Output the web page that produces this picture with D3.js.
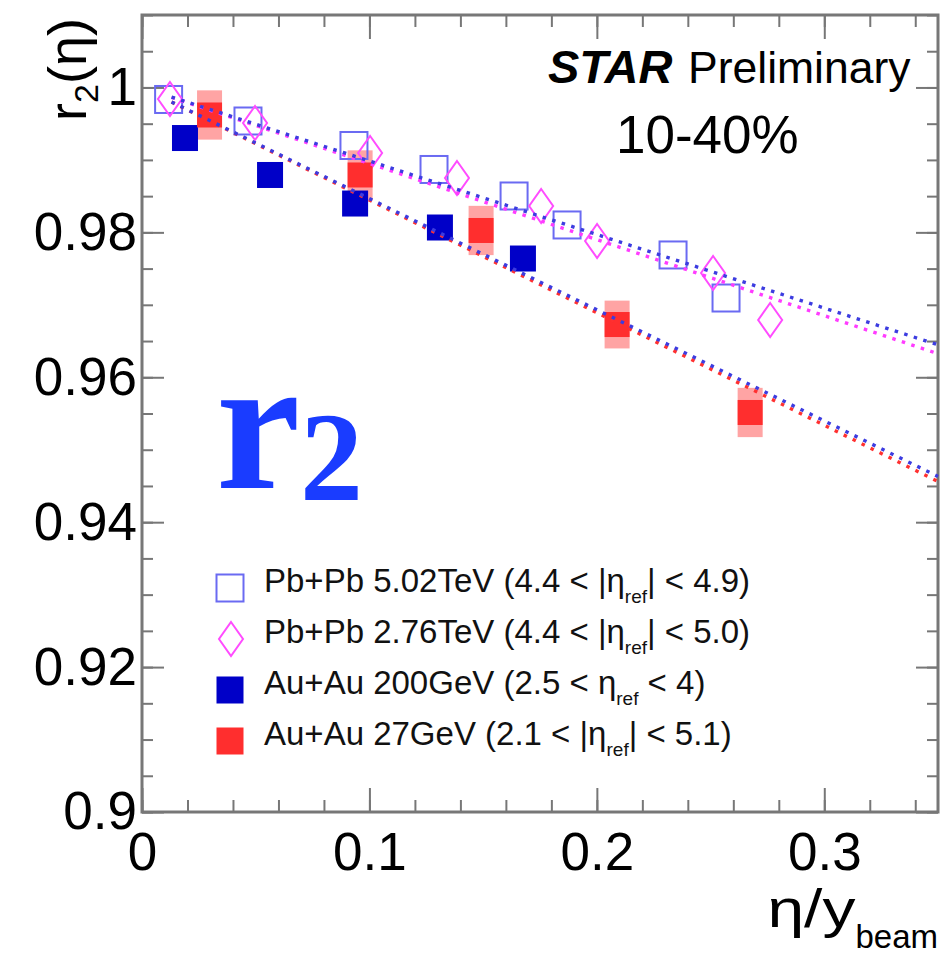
<!DOCTYPE html>
<html><head><meta charset="utf-8">
<script src="https://cdn.jsdelivr.net/npm/d3@7"></script>
<style>body{margin:0;background:#fff} svg{display:block}</style>
</head><body>
<svg id="chart" width="943" height="954"></svg>
<script>
// ---------- data ----------
const xTickValues = [0, 0.1, 0.2, 0.3];
const xTickLabels = ["0", "0.1", "0.2", "0.3"];
const yTickValues = [0.9, 0.92, 0.94, 0.96, 0.98, 1.0];
const yTickLabels = ["0.9", "0.92", "0.94", "0.96", "0.98", "1"];

const pbpb502X = [0.0117, 0.0466, 0.0932, 0.1284, 0.1636, 0.1869, 0.2335, 0.2568];
const pbpb502Y = [0.99834, 0.99537, 0.99199, 0.98868, 0.98502, 0.98102, 0.97688, 0.97094];

const pbpb276X = [0.0123, 0.0497, 0.1003, 0.1385, 0.1755, 0.2001, 0.2511, 0.2762];
const pbpb276Y = [0.99841, 0.99509, 0.99095, 0.98750, 0.98364, 0.97881, 0.97439, 0.96790];

const auau200X = [0.0189, 0.0563, 0.0937, 0.1310, 0.1675];
const auau200Y = [0.99302, 0.98792, 0.98398, 0.98067, 0.97639];

const auau27X = [0.0297, 0.0959, 0.1491, 0.2089, 0.2674];
const auau27Y = [0.99620, 0.98792, 0.98026, 0.96728, 0.95514];
const auau27Sys = [0.0034, 0.0034, 0.0034, 0.0033, 0.0034];

// linear fits r2 = intercept - slope * x
const fitNames = ["pbpb276", "pbpb502", "auau27", "auau200"];
const fitIntercept = [1.0, 1.0, 1.0, 1.0];
const fitSlope = [0.1050, 0.1015, 0.1554, 0.1534];
const fitRange = [0.013, 0.35];
const fitColors = ["#ff3cff", "#3c3ce0", "#ff3030", "#3c3ce0"];

const legendLabels = [
  ["Pb+Pb 5.02TeV (4.4 < |η", "ref", "| < 4.9)"],
  ["Pb+Pb 2.76TeV (4.4 < |η", "ref", "| < 5.0)"],
  ["Au+Au 200GeV (2.5 < η", "ref", " < 4)"],
  ["Au+Au 27GeV (2.1 < |η", "ref", "| < 5.1)"]
];

// ---------- layout ----------
const svg = d3.select("#chart");
const FONT = "'Liberation Sans', Arial, Helvetica, sans-serif";
const L = 142, R = 938, T = 15, B = 812;

const x = d3.scaleLinear().domain([0, 0.35]).range([L, R]);
const y = d3.scaleLinear().domain([0.9, 1.01]).range([B, T]);

const C_OPEN_SQ = "#6a6af2";
const C_DIAM = "#ff4cff";
const C_BLUE = "#0000c8";
const C_RED = "#ff2e2e";
const C_SYS = "#ff9a9a";

// ---------- axes ----------
const yMinor = d3.range(0, 23).map(i => 0.9 + i * 0.005);
const xMinor = d3.range(0, 18).map(i => i * 0.02);

function styleAxis(g) {
  g.select(".domain").remove();
  g.selectAll(".tick line").attr("stroke", "#777").attr("stroke-width", 2);
  g.selectAll("text").attr("font-family", FONT).attr("fill", "#000");
}

// left
svg.append("g").attr("transform", `translate(${L},0)`)
  .call(d3.axisLeft(y).tickValues(yMinor).tickSize(-11).tickFormat(""))
  .call(styleAxis);
svg.append("g").attr("transform", `translate(${L},0)`)
  .call(d3.axisLeft(y).tickValues(yTickValues).tickSize(-22).tickPadding(5)
    .tickFormat((d, i) => yTickLabels[i]))
  .call(styleAxis)
  .call(g => g.selectAll("text").attr("font-size", 53));
// right
svg.append("g").attr("transform", `translate(${R},0)`)
  .call(d3.axisRight(y).tickValues(yMinor).tickSize(-11).tickFormat(""))
  .call(styleAxis);
svg.append("g").attr("transform", `translate(${R},0)`)
  .call(d3.axisRight(y).tickValues(yTickValues).tickSize(-22).tickFormat(""))
  .call(styleAxis);
// bottom
svg.append("g").attr("transform", `translate(0,${B})`)
  .call(d3.axisBottom(x).tickValues(xMinor).tickSize(-12).tickFormat(""))
  .call(styleAxis);
svg.append("g").attr("transform", `translate(0,${B})`)
  .call(d3.axisBottom(x).tickValues(xTickValues).tickSize(-24).tickPadding(20)
    .tickFormat((d, i) => xTickLabels[i]))
  .call(styleAxis)
  .call(g => g.selectAll("text").attr("font-size", 53));
// top
svg.append("g").attr("transform", `translate(0,${T})`)
  .call(d3.axisTop(x).tickValues(xMinor).tickSize(-12).tickFormat(""))
  .call(styleAxis);
svg.append("g").attr("transform", `translate(0,${T})`)
  .call(d3.axisTop(x).tickValues(xTickValues).tickSize(-24).tickFormat(""))
  .call(styleAxis);

// frame
svg.append("rect").attr("x", L).attr("y", T).attr("width", R - L).attr("height", B - T)
  .attr("fill", "none").attr("stroke", "#777").attr("stroke-width", 3);

// ---------- big r2 label ----------
const big = svg.append("text").attr("x", 216).attr("y", 488)
  .attr("font-family", "'Liberation Serif', 'Times New Roman', serif")
  .attr("font-weight", "bold").attr("fill", "#1a3cff");
big.append("tspan").attr("font-size", 190).text("r");
big.append("tspan").attr("font-size", 126).attr("x", 300).attr("y", 500).text("2");

// ---------- markers ----------
const plot = svg.append("g");

// Au+Au 27 systematic boxes
plot.selectAll(".sys").data(auau27X).join("rect")
  .attr("x", d => x(d) - 12.5)
  .attr("y", (d, i) => y(auau27Y[i] + auau27Sys[i]))
  .attr("width", 25)
  .attr("height", (d, i) => y(auau27Y[i] - auau27Sys[i]) - y(auau27Y[i] + auau27Sys[i]))
  .attr("fill", C_SYS).attr("opacity", 0.9);

// Pb+Pb 5.02 open squares
plot.selectAll(".osq").data(pbpb502X).join("rect")
  .attr("x", d => x(d) - 13.5).attr("y", (d, i) => y(pbpb502Y[i]) - 13.5)
  .attr("width", 27).attr("height", 27)
  .attr("fill", "none").attr("stroke", C_OPEN_SQ).attr("stroke-width", 2);

// Pb+Pb 2.76 open diamonds
const diamond = (cx, cy) => `M${cx},${cy - 17}L${cx + 12},${cy}L${cx},${cy + 17}L${cx - 12},${cy}Z`;
plot.selectAll(".dia").data(pbpb276X).join("path")
  .attr("d", (d, i) => diamond(x(d), y(pbpb276Y[i])))
  .attr("fill", "none").attr("stroke", C_DIAM).attr("stroke-width", 2);

// Au+Au 200 filled squares
plot.selectAll(".fsq").data(auau200X).join("rect")
  .attr("x", d => x(d) - 13).attr("y", (d, i) => y(auau200Y[i]) - 13)
  .attr("width", 26).attr("height", 26).attr("fill", C_BLUE);

// Au+Au 27 filled red squares
plot.selectAll(".rsq").data(auau27X).join("rect")
  .attr("x", d => x(d) - 12.5).attr("y", (d, i) => y(auau27Y[i]) - 12.5)
  .attr("width", 25).attr("height", 25).attr("fill", C_RED);

// ---------- fit lines ----------
const line = d3.line().x(d => x(d[0])).y(d => y(d[1]));
fitNames.forEach((n, i) => {
  const pts = fitRange.map(v => [v, fitIntercept[i] - fitSlope[i] * v]);
  svg.append("path").attr("d", line(pts))
    .attr("fill", "none").attr("stroke", fitColors[i])
    .attr("stroke-width", 3.4).attr("stroke-dasharray", "3.5 6.5");
});

// ---------- texts ----------
svg.append("text").attr("x", 548).attr("y", 83).attr("font-family", FONT)
  .attr("font-size", 47).attr("font-weight", "bold").attr("font-style", "italic").text("STAR");
svg.append("text").attr("x", 688).attr("y", 83).attr("font-family", FONT)
  .attr("font-size", 44.5).text("Preliminary");
svg.append("text").attr("x", 616).attr("y", 153).attr("font-family", FONT)
  .attr("font-size", 53).text("10-40%");

// y title
const yt = svg.append("text").attr("transform", "translate(86,18) rotate(-90)")
  .attr("text-anchor", "end").attr("font-family", FONT).attr("font-size", 54);
yt.append("tspan").text("r");
yt.append("tspan").attr("font-size", 34).attr("dy", 12).text("2");
yt.append("tspan").attr("dy", -12).text("(η)");

// x title
const xt = svg.append("text").attr("x", 938).attr("y", 927).attr("text-anchor", "end")
  .attr("font-family", FONT).attr("font-size", 54);
xt.append("tspan").attr("textLength", 88).attr("lengthAdjust", "spacingAndGlyphs").text("η/y");
xt.append("tspan").attr("font-size", 33).attr("dy", 21).text("beam");

// ---------- legend ----------
const legRowY = [588, 639, 690, 741];
const leg = svg.append("g");
const lx = 230;
leg.append("rect").attr("x", lx - 13.5).attr("y", legRowY[0] - 13.5).attr("width", 27).attr("height", 27)
  .attr("fill", "none").attr("stroke", C_OPEN_SQ).attr("stroke-width", 2);
leg.append("path").attr("d", diamond(lx + 1, legRowY[1]))
  .attr("fill", "none").attr("stroke", C_DIAM).attr("stroke-width", 2);
leg.append("rect").attr("x", lx - 13.5).attr("y", legRowY[2] - 13.5).attr("width", 27).attr("height", 27)
  .attr("fill", C_BLUE);
leg.append("rect").attr("x", lx - 13.5).attr("y", legRowY[3] - 13.5).attr("width", 27).attr("height", 27)
  .attr("fill", C_RED);

legendLabels.forEach((parts, i) => {
  const t = leg.append("text").attr("x", 264).attr("y", legRowY[i] + 4)
    .attr("font-family", FONT).attr("font-size", 33).attr("fill", "#111");
  t.append("tspan").text(parts[0]);
  t.append("tspan").attr("font-size", 19).attr("dy", 11).text(parts[1]);
  t.append("tspan").attr("dy", -11).text(parts[2]);
});
</script>
</body></html>
